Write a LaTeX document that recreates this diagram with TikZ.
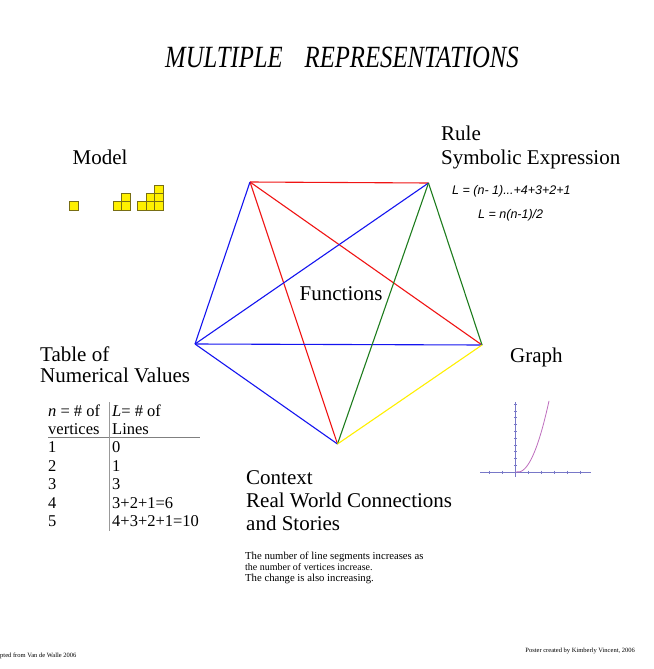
\documentclass[tikz,border=0pt]{standalone}
\usepackage{fontspec}
\setmainfont{Liberation Serif}
\newfontfamily\arialf{Liberation Sans}
\definecolor{pred}{RGB}{240,20,20}
\definecolor{pblue}{RGB}{20,20,240}
\definecolor{pgreen}{RGB}{30,125,30}
\definecolor{pyellow}{RGB}{255,240,0}
\definecolor{sqfill}{RGB}{255,240,0}
\definecolor{sqdraw}{RGB}{120,110,20}
\definecolor{axiscol}{RGB}{120,120,200}
\definecolor{curvecol}{RGB}{190,110,190}
\begin{document}
\begin{tikzpicture}[x=1pt,y=-1pt,
  edge/.style={line width=1.1pt},
  txt/.style={inner sep=0pt,anchor=base west},
  big/.style={txt,font=\fontsize{21}{24}\selectfont},
  tab/.style={txt,font=\fontsize{16.5}{19}\selectfont},
  formula/.style={txt,font=\arialf\itshape\fontsize{12.5}{14}\selectfont},
  small/.style={txt,font=\fontsize{10.7}{12}\selectfont},
  tiny/.style={txt,font=\fontsize{6.5}{7}\selectfont},
  sq/.style={fill=sqfill,draw=sqdraw,line width=0.5pt},
  axis/.style={draw=axiscol,line width=0.6pt}]
\useasboundingbox (0,0) rectangle (653,669);
\fill[white] (0,0) rectangle (653,669);

% title
\node[txt,font=\itshape\fontsize{24.7}{28}\selectfont,yscale=1.25] (title) at (165,67.5)
  {MULTIPLE\hspace{22pt}REPRESENTATIONS};

% pentagon vertices
\coordinate (TL) at (250,182);
\coordinate (TR) at (428.5,183);
\coordinate (L) at (195,344);
\coordinate (R) at (482,345);
\coordinate (B) at (337.5,444);

\draw[edge,pred] (TL) -- (TR);
\draw[edge,pred] (TL) -- (R);
\draw[edge,pred] (TL) -- (B);
\draw[edge,pblue] (TL) -- (L);
\draw[edge,pblue] (TR) -- (L);
\draw[edge,pblue] (L) -- (R);
\draw[edge,pblue] (L) -- (B);
\draw[edge,pgreen] (TR) -- (R);
\draw[edge,pgreen] (TR) -- (B);
\draw[edge,pyellow] (R) -- (B);

\node[big] (functions) at (299.5,300) {Functions};

% Model
\node[big] (model) at (72.5,164) {Model};
\draw[sq] (69.3,201.7) rectangle ++(8.6,8.6);
\draw[sq] (113.3,201.7) rectangle ++(8.4,8.4);
\draw[sq] (121.7,201.7) rectangle ++(8.4,8.4);
\draw[sq] (121.7,193.3) rectangle ++(8.4,8.4);
\draw[sq] (137.7,201.7) rectangle ++(8.4,8.4);
\draw[sq] (146.1,201.7) rectangle ++(8.4,8.4);
\draw[sq] (146.1,193.3) rectangle ++(8.4,8.4);
\draw[sq] (154.5,201.7) rectangle ++(8.4,8.4);
\draw[sq] (154.5,193.3) rectangle ++(8.4,8.4);
\draw[sq] (154.5,184.9) rectangle ++(8.4,8.4);

% Rule
\node[big] (rule) at (441,140) {Rule};
\node[big] (symb) at (441,164.5) {Symbolic Expression};
\node[formula] (f1) at (452,194.5) {L = (n- 1)...+4+3+2+1};
\node[formula] (f2) at (478,218.5) {L = n(n-1)/2};

% Table
\node[big] (tabl1) at (40,361.5) {Table of};
\node[big] (tabl2) at (40,382) {Numerical Values};
\node[tab] (h1a) at (48,416.5) {\textit{n} = \# of};
\node[tab] (h1b) at (112,416.5) {\textit{L}= \# of};
\node[tab] (h2a) at (48,434) {vertices};
\node[tab] (h2b) at (112,434) {Lines};
\node[tab] (r1a) at (48,452.5) {1};
\node[tab] (r1b) at (112,452.5) {0};
\node[tab] (r2a) at (48,471) {2};
\node[tab] (r2b) at (112,471) {1};
\node[tab] (r3a) at (48,489.5) {3};
\node[tab] (r3b) at (112,489.5) {3};
\node[tab] (r4a) at (48,508) {4};
\node[tab] (r4b) at (112,508) {3+2+1=6};
\node[tab] (r5a) at (48,526) {5};
\node[tab] (r5b) at (112,526) {4+3+2+1=10};
\draw[gray,line width=0.7pt] (48,437.5) -- (200,437.5);
\draw[gray!80,line width=0.7pt] (109,402) -- (109,531);

% Graph
\node[big] (graph) at (510,362) {Graph};
\draw[axis] (480,472) -- (591,472);
\draw[axis] (515.3,402) -- (515.3,477);
\foreach \k in {-2,...,5} {
  \draw[axis] (515.3+13*\k,470.5) -- (515.3+13*\k,473.5);
}
\foreach \k in {1,...,10} {
  \draw[axis] (513.8,472-6.8*\k) -- (516.8,472-6.8*\k);
}
\draw[curvecol,line width=0.8pt] (515.3,472) -- (519,471.8)
  plot[domain=519:549,samples=30,smooth] (\x,{472-0.074*(\x-518)*(\x-518)});

% Context
\node[big] (ctx1) at (246,484.5) {Context};
\node[big] (ctx2) at (246,507.5) {Real World Connections};
\node[big] (ctx3) at (246,530.5) {and Stories};

\node[small] (note1) at (245,559.5) {The number of line segments increases as};
\node[small,font=\fontsize{10}{12}\selectfont] (note2) at (245,570.5) {the number of vertices increase.};
\node[small] (note3) at (245,581.5) {The change is also increasing.};

% footer
\node[tiny] (foot1) at (0,657.5) {pted from Van de Walle 2006};
\node[tiny,anchor=base east] (foot2) at (635,652.5) {Poster created by Kimberly Vincent, 2006};
\end{tikzpicture}
\end{document}
